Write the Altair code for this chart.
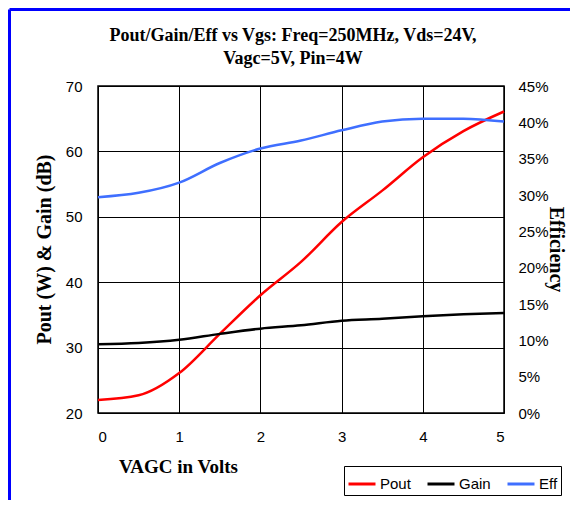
import altair as alt
import pandas as pd

vagc = [0, 0.5, 1, 1.5, 2, 2.5, 3, 3.5, 4, 4.5, 5]
pout = [22.0, 22.7, 26.1, 32.1, 38.0, 43.1, 49.2, 54.0, 59.1, 63.1, 66.1]
gain = [30.5, 30.7, 31.2, 32.1, 32.9, 33.4, 34.1, 34.4, 34.8, 35.1, 35.3]
eff = [0.297, 0.303, 0.317, 0.344, 0.364, 0.375, 0.389, 0.401, 0.405, 0.405, 0.401]

series_names = ["Pout", "Gain", "Eff"]
series_colors = ["#ff0000", "#000000", "#3f6fff"]
left_ticks = [20, 30, 40, 50, 60, 70]
right_ticks = [0, 0.05, 0.10, 0.15, 0.20, 0.25, 0.30, 0.35, 0.40, 0.45]
x_ticks = [0, 1, 2, 3, 4, 5]

left_df = pd.DataFrame(
    {"vagc": vagc * 2, "value": pout + gain, "series": ["Pout"] * len(vagc) + ["Gain"] * len(vagc)}
)
right_df = pd.DataFrame({"vagc": vagc, "value": eff, "series": ["Eff"] * len(vagc)})

SANS = "'Liberation Sans', Arial, sans-serif"
SERIF = "'Liberation Serif', 'Times New Roman', serif"

color = alt.Color(
    "series:N",
    scale=alt.Scale(domain=series_names, range=series_colors),
    legend=alt.Legend(
        title=None,
        orient="none",
        legendX=246,
        legendY=380,
        direction="horizontal",
        symbolType="stroke",
        symbolSize=729,
        symbolStrokeWidth=3,
        labelFont=SANS,
        labelFontSize=15,
        labelColor="#000000",
        labelOffset=3,
        columnPadding=10,
        padding=3,
        strokeColor="#000000",
        fillColor="#ffffff",
    ),
)

x_enc = alt.X(
    "vagc:Q",
    scale=alt.Scale(domain=[0, 5], nice=False),
    axis=alt.Axis(
        values=x_ticks,
        title="VAGC in Volts",
        titleFont=SERIF,
        titleFontSize=19,
        titleFontWeight="bold",
        titleColor="#000000",
        titleX=80,
        titleY=53,
        titleAlign="center",
        titleBaseline="middle",
        labelFont=SANS,
        labelFontSize=15,
        labelColor="#000000",
        labelPadding=16,
        ticks=False,
        domain=False,
        grid=True,
        gridColor="#000000",
        gridOpacity=1,
        gridWidth=1,
    ),
)

left = (
    alt.Chart(left_df)
    .mark_line(interpolate="monotone", strokeWidth=2.5)
    .encode(
        x=x_enc,
        y=alt.Y(
            "value:Q",
            scale=alt.Scale(domain=[20, 70], nice=False),
            axis=alt.Axis(
                values=left_ticks,
                title="Pout (W) & Gain (dB)",
                titleFont=SERIF,
                titleFontSize=20,
                titleFontWeight="bold",
                titleColor="#000000",
                titleAngle=270,
                titleX=-54,
                titleY=163,
                titleAlign="center",
                titleBaseline="middle",
                labelFont=SANS,
                labelFontSize=15,
                labelColor="#000000",
                labelPadding=16,
                ticks=False,
                domain=False,
                grid=True,
                gridColor="#000000",
                gridOpacity=1,
                gridWidth=1,
            ),
        ),
        color=color,
    )
)

right = (
    alt.Chart(right_df)
    .mark_line(interpolate="monotone", strokeWidth=2.5)
    .encode(
        x=x_enc,
        y=alt.Y(
            "value:Q",
            scale=alt.Scale(domain=[0, 0.45], nice=False),
            axis=alt.Axis(
                orient="right",
                values=right_ticks,
                format=".0%",
                title="Efficiency",
                titleFont=SERIF,
                titleFontSize=20,
                titleFontWeight="bold",
                titleColor="#000000",
                titleAngle=90,
                titleX=51,
                titleY=163,
                titleAlign="center",
                titleBaseline="middle",
                labelFont=SANS,
                labelFontSize=15,
                labelColor="#000000",
                labelPadding=14,
                ticks=False,
                domain=False,
                grid=False,
            ),
        ),
        color=color,
    )
)

frame_df = pd.DataFrame({"k": [0]})
frame_top = (
    alt.Chart(frame_df)
    .mark_rule(color="#0000ff", strokeWidth=3)
    .encode(x=alt.value(-88.5), x2=alt.value(480), y=alt.value(-76.5))
)
frame_left = (
    alt.Chart(frame_df)
    .mark_rule(color="#0000ff", strokeWidth=3)
    .encode(x=alt.value(-88.5), y=alt.value(-76.5), y2=alt.value(420))
)

chart = (
    alt.layer(left, right, frame_top, frame_left)
    .resolve_scale(y="independent")
    .properties(
        width=406,
        height=327,
        autosize=alt.AutoSizeParams(type="none"),
        padding={"left": 90, "top": 78, "right": 66, "bottom": 87},
        title=alt.TitleParams(
            text=["Pout/Gain/Eff vs Vgs: Freq=250MHz, Vds=24V,", "Vagc=5V, Pin=4W"],
            font=SERIF,
            fontSize=18,
            fontWeight="bold",
            color="#000000",
            anchor="middle",
            dx=-8,
            lineHeight=23,
            offset=-60,
        ),
        background="#ffffff",
    )
    .configure_view(stroke="#000000", strokeWidth=1.5)
)

chart.save("out.html", embed_options={"renderer": "svg", "actions": False})
